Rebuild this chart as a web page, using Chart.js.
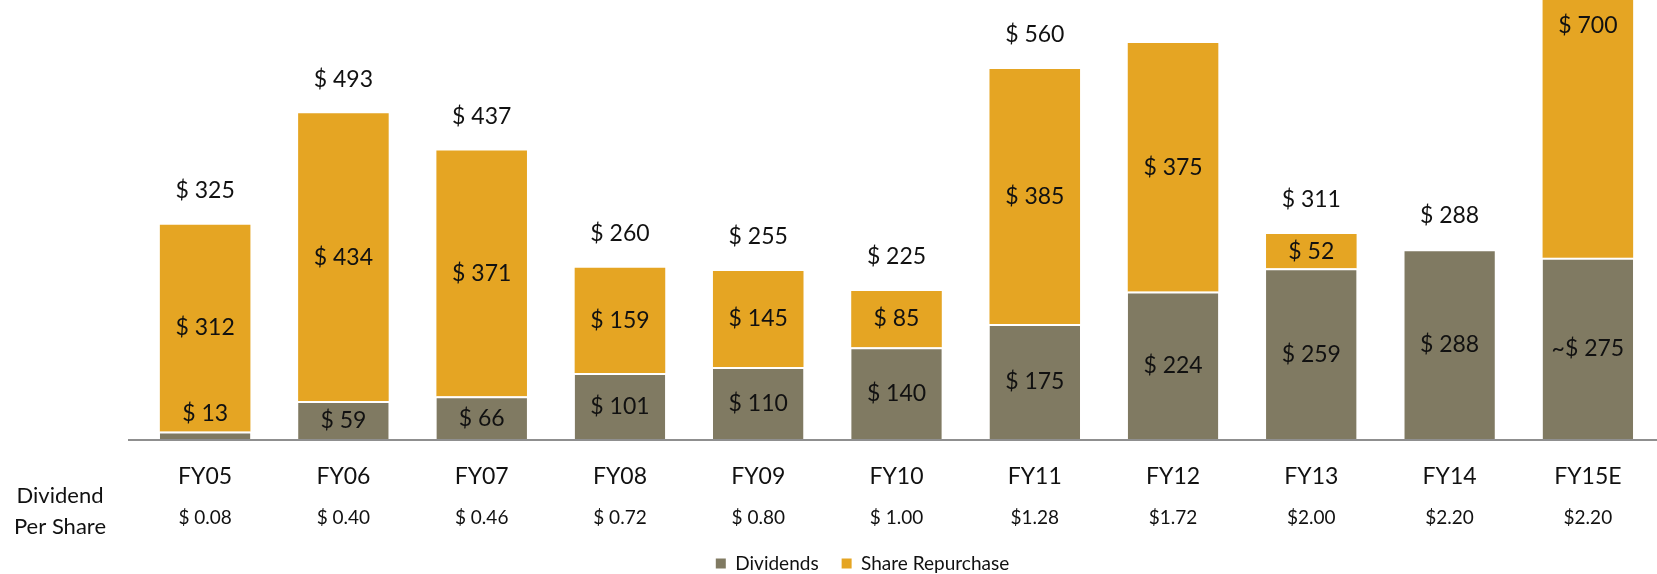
<!DOCTYPE html>
<html>
<head>
<meta charset="utf-8">
<script src="https://cdn.jsdelivr.net/npm/chart.js@4.4.1/dist/chart.umd.min.js"></script>
<style>
  html, body { margin: 0; padding: 0; background: #fff; }
  canvas { display: block; }
</style>
</head>
<body>
<canvas id="returns" width="1657" height="574"></canvas>
<script>
// Cash returned to shareholders, $M, by fiscal year
const years = ['FY05', 'FY06', 'FY07', 'FY08', 'FY09', 'FY10', 'FY11', 'FY12', 'FY13', 'FY14', 'FY15E'];
const dividendsPerShare = ['$ 0.08', '$ 0.40', '$ 0.46', '$ 0.72', '$ 0.80', '$ 1.00', '$1.28', '$1.72', '$2.00', '$2.20', '$2.20'];
const dividends = [13, 59, 66, 101, 110, 140, 175, 224, 259, 288, 275];
const repurchases = [312, 434, 371, 159, 145, 85, 385, 375, 52, null, 700];

const FONT = 'Lato';
const INK = '#111111';

// segment values inside the bars, totals above, and the DPS row title
const barLabels = {
  id: 'barLabels',
  afterDatasetsDraw(chart) {
    const { ctx, scales: { x, y } } = chart;
    const zero = y.getPixelForValue(0);
    ctx.save();
    ctx.strokeStyle = '#8f8f8f';
    ctx.lineWidth = 2;
    ctx.beginPath();
    ctx.moveTo(128, zero);
    ctx.lineTo(chart.width, zero);
    ctx.stroke();

    ctx.fillStyle = INK;
    ctx.textAlign = 'center';
    ctx.textBaseline = 'middle';
    ctx.font = `23px ${FONT}`;
    chart.data.datasets.forEach((ds, i) => {
      chart.getDatasetMeta(i).data.forEach((bar, j) => {
        const v = ds.data[j];
        if (!v) return;
        const top = Math.min(bar.y, bar.base);
        const h = Math.abs(bar.base - bar.y);
        const cy = h < 20 ? top - 18 : (bar.y + bar.base) / 2;
        const prefix = (i === 0 && years[j].endsWith('E')) ? '~$ ' : '$ ';
        ctx.fillText(prefix + v, bar.x, cy);
      });
    });

    years.forEach((_, j) => {
      const total = dividends[j] + (repurchases[j] || 0);
      const py = y.getPixelForValue(total) - 34;
      if (py < chart.chartArea.top + 12) return;
      ctx.fillText('$ ' + total, x.getPixelForValue(j), py);
    });

    ctx.font = `22px ${FONT}`;
    ctx.fillText('Dividend', 60, 496);
    ctx.fillText('Per Share', 60, 527);
    ctx.restore();
  }
};

new Chart(document.getElementById('returns'), {
  type: 'bar',
  data: {
    labels: years,
    datasets: [
      {
        label: 'Dividends',
        data: dividends,
        backgroundColor: '#807a62',
        borderColor: '#ffffff',
        borderWidth: { top: 2, left: 0, right: 0, bottom: 0 },
        borderSkipped: false
      },
      {
        label: 'Share Repurchase',
        data: repurchases,
        backgroundColor: '#e5a523',
        borderColor: '#ffffff',
        borderWidth: { top: 0, left: 0, right: 0, bottom: 0 },
        borderSkipped: false
      }
    ]
  },
  options: {
    responsive: false,
    animation: false,
    devicePixelRatio: 1,
    categoryPercentage: 1,
    barPercentage: 0.655,
    // legend box runs a little past the canvas bottom so its row sits low
    layout: { padding: { left: 68, right: 0, top: 0, bottom: -9 } },
    plugins: {
      tooltip: { enabled: false },
      legend: {
        position: 'bottom',
        labels: {
          boxWidth: 10,
          boxHeight: 10,
          padding: 23,
          color: INK,
          font: { family: FONT, size: 19 },
          generateLabels(chart) {
            return Chart.defaults.plugins.legend.labels.generateLabels(chart)
              .map(l => ({ ...l, lineWidth: 0, strokeStyle: l.fillStyle }));
          }
        }
      }
    },
    scales: {
      x: {
        stacked: true,
        offset: true,
        grid: { display: false, drawTicks: false },
        border: { display: false },
        ticks: { color: INK, font: { family: FONT, size: 23 }, padding: 23, maxRotation: 0, autoSkip: false },
        afterFit(axis) { axis.height = 60; }
      },
      dps: {
        type: 'category',
        labels: dividendsPerShare,
        position: 'bottom',
        weight: 1,
        offset: true,
        grid: { display: false, drawTicks: false },
        border: { display: false },
        ticks: { color: INK, font: { family: FONT, size: 19 }, padding: 6, maxRotation: 0, autoSkip: false },
        afterFit(axis) { axis.height = 31; }
      },
      y: {
        stacked: true,
        min: 0,
        max: 664,
        ticks: { display: false },
        grid: { display: false, drawTicks: false },
        border: { display: false },
        afterFit(axis) { axis.width = 68; }
      }
    }
  },
  plugins: [barLabels]
});
</script>
</body>
</html>
